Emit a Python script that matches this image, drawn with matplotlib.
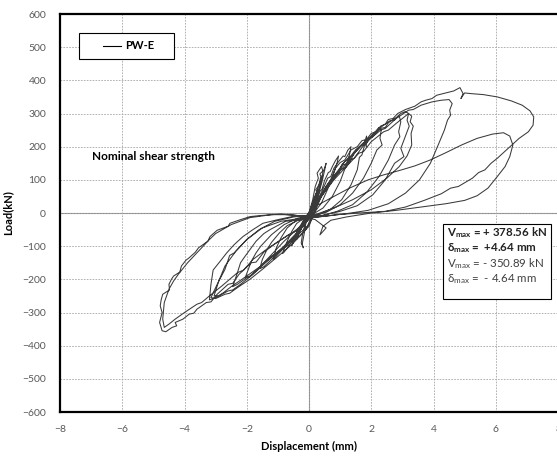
import matplotlib
matplotlib.use("Agg")
import matplotlib.pyplot as plt
from matplotlib.patches import Rectangle

plt.rcParams["font.family"] = ["Lato", "DejaVu Sans"]

# ---- data: hysteresis loops (displacement mm, load kN) ----
# cycles near the origin
c1_disp = [0.00, 0.08, 0.15, 0.22, 0.28, 0.25, 0.15, 0.05, -0.05, -0.12, -0.20, -0.16, -0.08, 0.00,
           0.10, 0.20, 0.28, 0.36, 0.42, 0.38, 0.30, 0.18, 0.05, -0.10, -0.22, -0.32, -0.40, -0.35,
           -0.22, -0.08, 0.05]
c1_load = [0, 20, 42, 58, 70, 52, 22, 2, -12, -28, -42, -30, -12, 0,
           25, 50, 72, 95, 112, 90, 60, 28, 5, -18, -40, -62, -80, -62,
           -32, -8, 8]

c2_disp = [0.15, 0.25, 0.22, 0.32, 0.38, 0.35, 0.48, 0.55, 0.50, 0.42, 0.30, 0.15, 0.00, -0.10, -0.15,
           -0.22, -0.18, -0.25, -0.20, -0.10, 0.00, 0.12, 0.20, 0.30, 0.26, 0.40, 0.45, 0.38, 0.25,
           0.10, -0.05, -0.15, -0.30, -0.45, -0.55, -0.50, -0.35, -0.18, 0.00]
c2_load = [35, 62, 70, 85, 110, 118, 130, 150, 128, 95, 55, 18, -5, -30, -60,
           -95, -105, -90, -60, -25, 0, 40, 80, 105, 120, 140, 125, 90, 50,
           15, -5, -25, -50, -78, -98, -82, -50, -22, -2]

# ~1 mm and ~1.4 mm
c3_disp = [0.20, 0.35, 0.42, 0.50, 0.62, 0.68, 0.75, 0.85, 0.95, 0.90, 0.78, 0.60, 0.40, 0.20, 0.00,
           -0.20, -0.40, -0.55, -0.70, -0.85, -0.80, -0.65, -0.45, -0.20, 0.00,
           0.25, 0.45, 0.60, 0.70, 0.80, 0.95, 1.10, 1.15, 1.25, 1.35, 1.30, 1.18, 1.00, 0.75, 0.45,
           0.15, -0.15, -0.45, -0.70, -0.90, -1.05, -1.15, -1.05, -0.85, -0.55, -0.25, 0.00]
c3_load = [30, 65, 72, 98, 122, 125, 140, 158, 172, 150, 115, 72, 30, 5, -8,
           -18, -32, -55, -85, -122, -118, -100, -72, -40, -15,
           35, 72, 105, 110, 135, 155, 172, 170, 190, 200, 175, 140, 95, 50, 15,
           -2, -10, -25, -45, -75, -105, -140, -130, -110, -80, -45, -15]

# spike at 1.85 mm
c4_disp = [0.30, 0.55, 0.80, 0.95, 1.05, 1.30, 1.40, 1.50, 1.65, 1.78, 1.85, 1.84, 1.80, 1.70, 1.62,
           1.55, 1.35, 1.05, 0.70, 0.30, 0.00, -0.35, -0.70, -0.95, -1.20, -1.35, -1.50,
           -1.58, -1.45, -1.20, -0.85, -0.45, -0.10]
c4_load = [40, 80, 115, 120, 145, 170, 172, 185, 200, 212, 232, 200, 210, 175, 168,
           130, 85, 40, 12, -5, -12, -22, -38, -60, -88, -110, -140,
           -168, -162, -140, -105, -65, -30]

# ~2.3 mm
c5_disp = [0.25, 0.55, 0.70, 0.85, 1.15, 1.25, 1.45, 1.75, 1.85, 1.95, 2.10, 2.25, 2.32, 2.28, 2.35,
           2.18, 2.00, 1.75, 1.40, 1.00, 0.55, 0.10, -0.35, -0.80, -1.20, -1.55, -1.70,
           -1.85, -2.05, -1.90, -1.75, -1.60, -1.20, -0.80, -0.40, -0.05]
c5_load = [30, 75, 88, 118, 155, 160, 185, 210, 212, 228, 242, 258, 250, 225, 205,
           190, 150, 105, 60, 25, 2, -10, -15, -35, -65, -100, -120,
           -145, -195, -190, -178, -165, -125, -85, -50, -20]

# ~2.9 mm
c6_disp = [0.30, 0.65, 1.00, 1.20, 1.35, 1.70, 1.85, 2.00, 2.30, 2.45, 2.55, 2.75, 2.90, 2.95, 2.88,
           2.92, 2.75, 2.55, 2.25, 1.85, 1.40, 0.90, 0.35, -0.20, -0.75, -1.25, -1.45, -1.70,
           -2.05, -2.20, -2.30, -2.45, -2.30, -2.00, -1.90, -1.65, -1.30, -0.80, -0.30]
c6_load = [35, 85, 130, 138, 170, 205, 210, 232, 255, 258, 272, 285, 292, 275, 245,
           230, 205, 160, 110, 62, 25, 5, -10, -20, -25, -50, -62, -85,
           -130, -150, -180, -222, -215, -195, -192, -170, -140, -100, -55]

# ~3.15 mm
c7_disp = [0.30, 0.70, 1.10, 1.30, 1.50, 1.90, 2.05, 2.30, 2.60, 2.75, 2.85, 2.95, 3.10, 3.20, 3.15,
           3.22, 3.10, 2.95, 3.05, 2.75, 2.45, 2.05, 1.55, 1.00, 0.40, -0.50, -1.00, -1.48,
           -1.80, -2.12, -2.40, -2.65, -2.85, -3.08, -3.15, -3.20, -3.00, -2.76, -2.50,
           -2.33, -2.00, -1.58, -1.20, -0.72, -0.30, 0.00]
c7_load = [40, 95, 145, 152, 190, 225, 230, 258, 278, 280, 292, 300, 306, 300, 280,
           262, 232, 195, 170, 150, 100, 55, 22, 5, -8, -10, -20, -31,
           -50, -71, -95, -121, -145, -172, -215, -262, -255, -241, -222,
           -211, -190, -162, -130, -101, -70, -40]

# ~3.3 mm, wider return
c8_disp = [0.35, 0.80, 1.20, 1.60, 1.75, 2.00, 2.40, 2.55, 2.80, 3.00, 3.20, 3.30, 3.25, 3.35, 3.28,
           3.30, 3.15, 2.90, 2.50, 2.00, 1.40, 0.80, 0.20, -0.50, -1.10, -1.60, -2.00, -2.35,
           -2.70, -2.90, -3.05, -2.90, -2.60, -2.45, -2.20, -1.80, -1.40, -0.90, -0.40, 0.00]
c8_load = [45, 100, 140, 180, 185, 215, 245, 250, 270, 285, 300, 292, 275, 262, 240,
           205, 172, 140, 105, 70, 40, 15, -5, -12, -25, -50, -80, -115,
           -160, -205, -250, -250, -235, -232, -215, -185, -150, -110, -70, -35]

# ~4.5 mm
c9_disp = [0.40, 0.85, 1.30, 1.45, 1.80, 2.30, 2.45, 2.80, 3.20, 3.35, 3.60, 3.95, 4.25, 4.50, 4.60,
           4.52, 4.55, 4.45, 4.35, 4.15, 3.90, 3.55, 3.10, 2.55, 1.90, 1.20, 0.50, -0.20, -0.90,
           -1.50, -2.00, -2.40, -2.55, -2.70, -2.95, -3.15, -3.00, -2.70, -2.55, -2.30, -1.90,
           -1.50, -1.05, -0.55, -0.10]
c9_load = [50, 110, 160, 165, 210, 250, 255, 285, 310, 312, 325, 335, 340, 342, 330,
           310, 295, 280, 250, 205, 150, 100, 60, 28, 8, -2, -10, -15, -25,
           -45, -80, -120, -128, -170, -215, -255, -258, -245, -242, -225, -200,
           -170, -135, -95, -50]

# outer cycle: +378.56 kN, out to 7.2 mm, then -350 kN at -4.64 mm
c10_disp = [0.30, 0.55, 0.70, 0.85, 1.00, 1.15, 1.35, 1.55, 1.70, 1.85, 2.00, 2.15, 2.30, 2.45, 2.55,
            2.70, 2.85, 3.10, 3.40, 3.60, 3.75, 3.95, 4.10, 4.40, 4.65, 4.85, 4.95, 4.88, 5.00,
            5.20, 5.60, 6.05, 6.50, 6.85, 7.10, 7.22, 7.20, 7.05, 6.75, 6.40, 6.05, 5.85, 5.65,
            5.45, 5.25, 4.80, 4.55, 4.25, 3.70, 3.10, 2.45, 1.60, 0.90, 0.30, -0.30, -0.90,
            -1.60, -1.90, -2.20, -2.54, -2.60, -2.95, -3.18, -3.25, -3.55, -3.65, -3.85, -3.95,
            -4.10, -4.15, -4.35, -4.42, -4.50, -4.48, -4.70, -4.75, -4.78, -4.72, -4.80, -4.72,
            -4.60, -4.40, -4.25, -4.30, -4.05, -3.85, -3.70, -3.60, -3.30, -3.15, -2.95, -2.60,
            -2.45, -2.25, -1.85, -1.70, -1.45, -1.05, -0.65, -0.25]
c10_load = [35, 80, 100, 135, 152, 160, 190, 200, 218, 222, 240, 245, 262, 268, 282,
            285, 300, 312, 322, 335, 340, 345, 355, 362, 368, 378, 360, 345, 362,
            360, 357, 350, 338, 325, 308, 290, 265, 245, 225, 195, 165, 150, 130,
            122, 105, 80, 75, 58, 38, 18, 5, 0, -5, -12, -10, -3,
            -8, -11, -20, -31, -40, -52, -71, -85, -105, -118, -135, -142,
            -160, -178, -190, -200, -215, -232, -245, -262, -280, -300, -330, -355,
            -358, -345, -340, -330, -320, -305, -302, -290, -270, -268, -245, -215,
            -212, -185, -150, -148, -118, -90, -65, -48]

# second large cycle to 6.4 mm, hook near the origin, then second outer negative path
c11_disp = [0.20, 0.70, 1.30, 1.90, 2.40, 2.90, 3.40, 3.90, 4.40, 4.90, 5.40, 5.90, 6.25, 6.45, 6.55,
            6.45, 6.30, 6.05, 5.75, 5.40, 5.00, 4.40, 3.60, 2.80, 2.00, 1.20, 0.70, 0.45, 0.35,
            0.55, 0.20, -0.50, -1.20, -1.90, -2.50, -3.00, -3.20, -3.40, -3.80, -3.90, -4.20,
            -4.35, -4.50, -4.65, -4.70, -4.65, -4.50, -4.30, -4.00, -3.60, -3.45, -3.20, -2.80,
            -2.30, -2.10, -1.80, -1.30, -0.80, -0.30, 0.00]
c11_load = [20, 45, 75, 100, 115, 128, 142, 160, 182, 205, 225, 238, 242, 232, 205,
            170, 140, 110, 75, 52, 38, 28, 18, 8, 0, -12, -22, -40, -66,
            -45, -20, -5, -5, -14, -35, -62, -80, -100, -140, -150, -185,
            -205, -230, -270, -320, -345, -335, -320, -300, -275, -270, -250, -220,
            -180, -172, -140, -105, -75, -45, -20]

disp = c1_disp + c2_disp + c3_disp + c4_disp + c5_disp + c6_disp + c7_disp + c8_disp + c9_disp + c10_disp + c11_disp
load = c1_load + c2_load + c3_load + c4_load + c5_load + c6_load + c7_load + c8_load + c9_load + c10_load + c11_load

x_ticks = [-8, -6, -4, -2, 0, 2, 4, 6, 8]
y_ticks = [-600, -500, -400, -300, -200, -100, 0, 100, 200, 300, 400, 500, 600]
summary = [
    (r"$\mathregular{V_{max}}$ = + 378.56 kN", "bold"),
    ("δ" + r"$\mathregular{_{max}}$ =  +4.64 mm", "bold"),
    (r"$\mathregular{V_{max}}$ = - 350.89 kN", "normal"),
    ("δ" + r"$\mathregular{_{max}}$ =  - 4.64 mm", "normal"),
]

fig = plt.figure(figsize=(5.57, 4.57), dpi=100)
ax = fig.add_axes([60 / 557, 45 / 457, 498 / 557, 398 / 457])

ax.plot(disp, load, color="#3a3a3a", lw=0.75, zorder=3)

ax.set_xlim(-8, 8)
ax.set_ylim(-600, 600)
ax.set_xticks(x_ticks)
ax.set_yticks(y_ticks)
ax.tick_params(length=0, labelsize=7.5, labelcolor="#595959")
ax.tick_params(axis="y", pad=10)
ax.tick_params(axis="x", pad=9)

# excel-like grid: dashed, zero lines solid
ax.grid(True, color="#a6a6a6", lw=0.6, linestyle=(0, (2, 1.5)), zorder=0)
ax.axhline(0, color="#8c8c8c", lw=0.8, zorder=1)
ax.axvline(0, color="#8c8c8c", lw=0.8, zorder=1)

for side in ("left", "bottom", "top"):
    ax.spines[side].set_linewidth(1.6)
    ax.spines[side].set_color("black")
ax.spines["right"].set_linewidth(0.8)

# legend-like box
ax.add_patch(Rectangle((0.038, 0.887), 0.191, 0.065, transform=ax.transAxes,
                       facecolor="white", edgecolor="black", lw=0.8, zorder=4))
ax.plot([0.086, 0.122], [0.920, 0.920], transform=ax.transAxes,
        color="black", lw=0.8, zorder=5)
ax.text(0.131, 0.920, "PW-E", transform=ax.transAxes, fontsize=8,
        fontweight="bold", ha="left", va="center", zorder=5)

ax.text(-6.97, 169, "Nominal shear strength", fontsize=8.5, fontweight="bold",
        ha="left", va="center", zorder=5)

# summary box
ax.add_patch(Rectangle((0.769, 0.284), 0.217, 0.188, transform=ax.transAxes,
                       facecolor="white", edgecolor="black", lw=0.8, zorder=4))
for i, (s, w) in enumerate(summary):
    ax.text(0.777, 0.450 - i * 0.039, s, transform=ax.transAxes, fontsize=8.3,
            fontweight=w, color="#222222" if w == "bold" else "#404040",
            ha="left", va="center", zorder=5)

fig.text(8 / 557, 1 - 213 / 457, "Load(kN)", rotation=90, fontsize=8,
         fontweight="bold", ha="center", va="center")
fig.text(309 / 557, 1 - 446 / 457, "Displacement (mm)", fontsize=8,
         fontweight="bold", ha="center", va="center")

fig.savefig("out.png", dpi=100)
